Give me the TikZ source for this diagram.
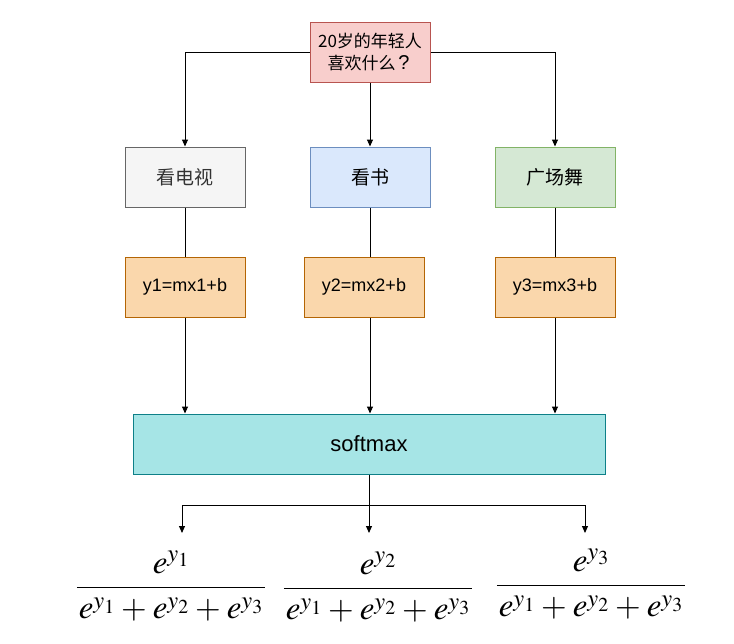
\documentclass[tikz,border=0pt]{standalone}
\usepackage{amsmath}
\usepackage{mathptmx}
\usepackage[no-math]{fontspec}
\setmainfont{Liberation Sans}
\newfontfamily\cjk{Noto Sans CJK SC}
\usepackage{xcolor}
\usepackage{tikz}
\usetikzlibrary{positioning,arrows.meta}

\definecolor{qfill}{HTML}{F8CECC}
\definecolor{qline}{HTML}{B85450}
\definecolor{tvfill}{HTML}{F5F5F5}
\definecolor{tvline}{HTML}{666666}
\definecolor{tvtext}{HTML}{333333}
\definecolor{bookfill}{HTML}{DAE8FC}
\definecolor{bookline}{HTML}{6C8EBF}
\definecolor{dancefill}{HTML}{D5E8D4}
\definecolor{danceline}{HTML}{82B366}
\definecolor{yfill}{HTML}{FAD7AC}
\definecolor{yline}{HTML}{B46504}
\definecolor{smfill}{HTML}{A6E5E6}
\definecolor{smline}{HTML}{0E8088}

\newcommand{\plusgap}{\hskip6pt{+}\hskip6pt}
\newcommand{\softfrac}[1]{%
    \genfrac{}{}{1.8pt}{0}{e^{y_#1}}{\hskip2pt e^{y_1}\plusgap e^{y_2}\plusgap e^{y_3}\hskip2pt}}

\tikzset{
    box/.style={rectangle, draw, line width=1pt, minimum width=120pt, minimum height=60pt,
        inner sep=2pt, align=center, font=\fontsize{18}{22}\selectfont},
    arr/.style={-{Triangle[length=7pt,width=6pt]}, line width=1pt},
    link/.style={line width=1pt},
    prob/.style={font=\fontsize{33}{40}\selectfont, inner sep=0pt}
}

\begin{document}
\begin{tikzpicture}[x=1pt, y=-1pt]
    \useasboundingbox (0,0) rectangle (734,643);

    % question
    \node(q) [box, fill=qfill, draw=qline, font=\cjk\fontsize{17}{22}\selectfont] at (370,52)
        {20岁的年轻人\\喜欢什么\makebox[1em]{\rmfamily\fontsize{20}{22}\selectfont ?}};

    % choices
    \node(tv) [box, fill=tvfill, draw=tvline, text=tvtext, font=\cjk\fontsize{19}{22}\selectfont] at (185,177) {看电视};
    \node(book) [box, fill=bookfill, draw=bookline, font=\cjk\fontsize{19}{22}\selectfont] at (370,177) {看书};
    \node(dance) [box, fill=dancefill, draw=danceline, font=\cjk\fontsize{19}{22}\selectfont] at (555,177) {广场舞};

    % linear scores
    \node(y1) [box, fill=yfill, draw=yline] at (185,287) {y1=mx1+b};
    \node(y2) [box, fill=yfill, draw=yline] at (364,287) {y2=mx2+b};
    \node(y3) [box, fill=yfill, draw=yline] at (555,287) {y3=mx3+b};

    \node(sm) [box, minimum width=472pt, fill=smfill, draw=smline, font=\fontsize{22}{26}\selectfont] at (369,444) {softmax};

    % outputs
    \node(f1) [prob] at (171,586) {$\softfrac{1}$};
    \node(f2) [prob] at (378,587) {$\softfrac{2}$};
    \node(f3) [prob] at (591,584) {$\softfrac{3}$};

    \coordinate(split) at (369,505);
    \coordinate(a1) at (182,533);
    \coordinate(a2) at (369,533);
    \coordinate(a3) at (585,533);

    \draw[arr] (q.west) -| (tv.north);
    \draw[arr] (q.south) -- (book.north);
    \draw[arr] (q.east) -| (dance.north);

    \draw[link] (tv.south) -- (y1.north);
    \draw[link] (book.south) -- (book.south |- y2.north);
    \draw[link] (dance.south) -- (y3.north);

    \draw[arr] (y1.south) -- (y1.south |- sm.north);
    \draw[arr] (book.south |- y2.south) -- (book.south |- sm.north);
    \draw[arr] (y3.south) -- (y3.south |- sm.north);

    \draw[link] (sm.south) -- (split);
    \draw[arr] (split) -| (a1);
    \draw[arr] (split) -- (a2);
    \draw[arr] (split) -| (a3);
\end{tikzpicture}
\end{document}
